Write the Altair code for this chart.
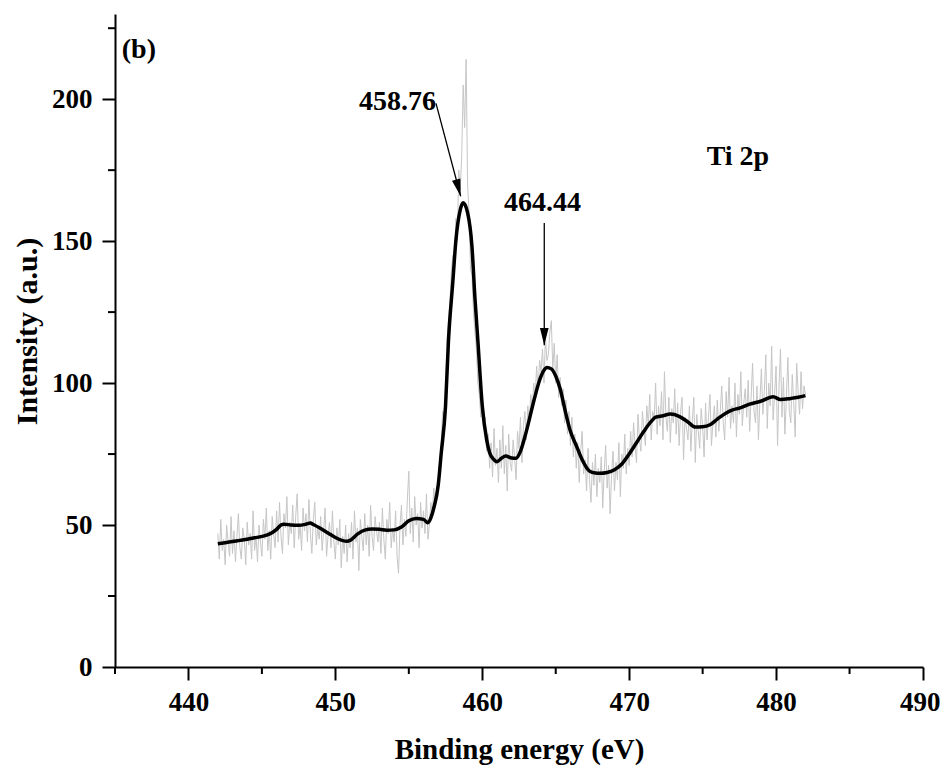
import altair as alt
import pandas as pd

# ---------------- data ----------------
# raw (noisy) spectrum, 442.0 .. 482.0 eV, step 0.1 eV
raw_start = 442.0
raw_step = 0.1
raw_intensity = [
    47, 38, 52, 41, 45, 36, 50, 44, 39, 53,
    40, 48, 37, 46, 54, 42, 38, 49, 45, 36,
    51, 43, 47, 38, 55, 41, 46, 37, 50, 44,
    39, 52, 45, 56, 41, 48, 38, 53, 47, 42,
    55, 44, 58, 46, 40, 54, 49, 60, 43, 51,
    47, 57, 42, 53, 61, 45, 50, 41, 56, 48,
    54, 44, 59, 47, 40, 52, 58, 43, 49, 45,
    53, 41, 48, 56, 39, 46, 51, 42, 55, 44,
    38, 49, 43, 52, 35, 46, 40, 50, 37, 47,
    42, 51, 38, 55, 44, 49, 34, 52, 46, 41,
    54, 43, 50, 39, 57, 46, 41, 53, 48, 44,
    51, 40, 56, 45, 38, 52, 47, 58, 42, 49,
    44, 55, 39, 33, 50, 57, 43, 52, 46, 59,
    69, 47, 56, 44, 60, 50, 54, 42, 58, 49,
    55, 47, 61, 45, 50, 58, 54, 63, 57, 62,
    66, 72, 78, 90, 88, 98, 115, 122, 128, 140,
    145, 138, 158, 150, 175, 168, 180, 205, 190, 214,
    170, 160, 140, 138, 125, 118, 112, 100, 96, 88,
    95, 84, 88, 76, 82, 70, 79, 67, 84, 71,
    77, 65, 80, 70, 85, 68, 78, 62, 82, 72,
    69, 80, 74, 66, 83, 77, 88, 72, 85, 90,
    80, 92, 86, 96, 91, 100, 95, 106, 98, 108,
    104, 112, 100, 116, 108, 110, 118, 122, 105, 114,
    100, 110, 95, 102, 92, 98, 86, 94, 82, 90,
    78, 88, 74, 82, 70, 79, 65, 76, 83, 68,
    73, 62, 77, 66, 58, 72, 64, 75, 60, 70,
    65, 74, 56, 69, 78, 63, 71, 54, 67, 76,
    62, 72, 66, 79, 60, 75, 70, 82, 68, 77,
    71, 83, 74, 86, 78, 72, 89, 80, 76, 90,
    84, 78, 92, 85, 96, 80, 90, 87, 100, 82,
    92, 85, 97, 80, 104, 88, 83, 95, 79, 91,
    86, 98, 82, 93, 78, 90, 95, 73, 88, 84,
    80, 92, 76, 87, 95, 72, 89, 83, 77, 91,
    85, 74, 93, 80, 88, 96, 78, 86, 92, 81,
    94, 83, 90, 99, 86, 80, 97, 88, 102, 84,
    92, 86, 100, 81, 96, 89, 104, 85, 93, 98,
    88, 101, 83, 95, 107, 90, 86, 99, 80, 94,
    105, 89, 97, 110, 84, 100, 92, 113, 87, 96,
    106, 78, 99, 112, 88, 102, 82, 95, 109, 90,
    86, 103, 93, 81, 107, 97, 89, 104, 91, 99,
    96,
]
raw_energy = [round(raw_start + i * raw_step, 1) for i in range(len(raw_intensity))]

# smoothed spectrum
smooth_energy = [
    442.0, 442.5, 443.0, 443.5, 444.0, 444.5, 445.0, 445.5, 446.0, 446.3,
    446.5, 447.0, 447.5, 448.0, 448.3, 448.5, 449.0, 449.5, 450.0, 450.5,
    450.8, 451.0, 451.5, 452.0, 452.5, 453.0, 453.5, 454.0, 454.5, 455.0,
    455.5, 456.0, 456.3, 456.5, 456.7, 457.0, 457.2, 457.5, 457.7, 458.0,
    458.2, 458.5, 458.7, 459.0, 459.3, 459.5, 459.7, 460.0, 460.3, 460.5,
    460.8, 461.0, 461.3, 461.6, 462.0, 462.3, 462.6, 463.0, 463.5, 463.9,
    464.2, 464.4, 464.7, 465.0, 465.3, 465.7, 466.0, 466.4, 466.8, 467.3,
    467.7, 468.0, 468.5, 469.0, 469.5, 470.0, 470.5, 471.0, 471.5, 471.8,
    472.3, 472.8, 473.4, 474.0, 474.5, 475.0, 475.5, 476.0, 476.6, 477.0,
    477.5, 478.2, 479.0, 479.8, 480.3, 481.0, 481.5, 482.0,
]
smooth_intensity = [
    43.4, 43.8, 44.2, 44.6, 45.0, 45.5, 46.0, 46.8, 48.5, 50.0,
    50.3, 50.0, 49.9, 50.3, 50.7, 50.2, 48.8, 47.2, 45.6, 44.5,
    44.3, 44.6, 46.8, 48.2, 48.6, 48.5, 48.2, 48.3, 49.3, 51.5,
    52.3, 52.0, 50.8, 52.5, 56.0, 64.0, 75.0, 92.0, 115.0, 136.0,
    150.0, 161.0, 163.5, 160.0, 148.0, 130.0, 115.0, 92.0, 80.0, 75.5,
    73.0, 72.3, 73.5, 74.3, 73.6, 73.5, 76.0, 83.0, 93.5, 101.0,
    104.5, 105.5, 105.0, 102.5, 98.0, 89.0, 83.0, 78.0, 73.0, 69.0,
    68.3, 68.2, 68.5, 69.5, 71.5, 75.0, 79.0, 83.0, 86.5, 88.0,
    88.5, 89.1, 88.3, 86.3, 84.5, 84.6, 85.3, 87.3, 89.5, 90.5,
    91.2, 92.6, 93.7, 95.2, 94.2, 94.6, 95.0, 95.6,
]

x_major = [440, 450, 460, 470, 480, 490]
x_minor = [435, 445, 455, 465, 475, 485]
y_major = [0, 50, 100, 150, 200]
y_minor = [25, 75, 125, 175, 225]

label_text = ["(b)", "458.76", "464.44", "Ti 2p"]
label_x = [435.46, 454.23, 464.10, 477.40]
label_y = [217.3, 199.0, 163.3, 179.7]
label_align = ["left", "center", "center", "center"]

arrow_x = [456.85, 464.22]
arrow_y = [198.5, 156.4]
arrow_tip_x = [458.53, 464.22]
arrow_tip_y = [165.8, 113.3]
arrow_angle = [345, 0]

# ---------------- chart ----------------
FONT = "Liberation Serif"
xs = alt.Scale(domain=[435, 490], nice=False, zero=False)
ys = alt.Scale(domain=[0, 230], nice=False, zero=True)

raw_df = pd.DataFrame({"E": raw_energy, "I": raw_intensity})
smooth_df = pd.DataFrame({"E": smooth_energy, "I": smooth_intensity})

x_axis = alt.Axis(
    values=x_major, tickSize=13, tickWidth=2, tickColor="black",
    domainColor="black", domainWidth=2, grid=False,
    labelFont=FONT, labelFontWeight="bold", labelFontSize=27, labelColor="black",
    labelBaseline="alphabetic", labelPadding=30,
    labelFlush=1, labelFlushOffset=17,
    title="Binding energy (eV)", titleFont=FONT, titleFontWeight="bold",
    titleFontSize=29, titleColor="black", titleBaseline="alphabetic",
    titleY=91, titleX=404,
)
y_axis = alt.Axis(
    values=y_major, tickSize=13, tickWidth=2, tickColor="black",
    domainColor="black", domainWidth=2, grid=False,
    labelFont=FONT, labelFontWeight="bold", labelFontSize=27, labelColor="black",
    labelPadding=10, labelFlush=False,
    title="Intensity (a.u.)", titleFont=FONT, titleFontWeight="bold",
    titleFontSize=30, titleColor="black", titleBaseline="alphabetic",
    titleAngle=270, titleX=-79, titleY=317,
)

raw_line = alt.Chart(raw_df).mark_line(color="#c6c6c6", strokeWidth=1).encode(
    x=alt.X("E:Q", scale=xs, axis=x_axis),
    y=alt.Y("I:Q", scale=ys, axis=y_axis),
    order="E:Q",
)
smooth_line = alt.Chart(smooth_df).mark_line(
    color="black", strokeWidth=3.5, interpolate="monotone"
).encode(
    x=alt.X("E:Q", scale=xs),
    y=alt.Y("I:Q", scale=ys),
    order="E:Q",
)

xminor_df = pd.DataFrame({"v": x_minor})
yminor_df = pd.DataFrame({"v": y_minor})
x_minor_ticks = alt.Chart(xminor_df).mark_rule(color="black", strokeWidth=2).encode(
    x=alt.X("v:Q", scale=xs), y=alt.value(653), y2=alt.value(660)
)
y_minor_ticks = alt.Chart(yminor_df).mark_rule(color="black", strokeWidth=2).encode(
    y=alt.Y("v:Q", scale=ys), x=alt.value(0), x2=alt.value(-7)
)

lab_df = pd.DataFrame({"t": label_text, "x": label_x, "y": label_y, "a": label_align})
left_labels = alt.Chart(lab_df[lab_df.a == "left"]).mark_text(
    font=FONT, fontWeight="bold", fontSize=28, align="left", baseline="middle", color="black"
).encode(x=alt.X("x:Q", scale=xs), y=alt.Y("y:Q", scale=ys), text="t:N")
center_labels = alt.Chart(lab_df[lab_df.a == "center"]).mark_text(
    font=FONT, fontWeight="bold", fontSize=28, align="center", baseline="middle", color="black"
).encode(x=alt.X("x:Q", scale=xs), y=alt.Y("y:Q", scale=ys), text="t:N")

arr_df = pd.DataFrame({"x": arrow_x, "y": arrow_y, "x2": arrow_tip_x, "y2": arrow_tip_y,
                       "ang": arrow_angle})
arrow_lines = alt.Chart(arr_df).mark_rule(color="black", strokeWidth=1.3).encode(
    x=alt.X("x:Q", scale=xs), y=alt.Y("y:Q", scale=ys), x2="x2:Q", y2="y2:Q"
)
arrow_heads = alt.Chart(arr_df).mark_point(
    shape="M0,0L-0.5,-2L0.5,-2Z", filled=True, color="black", size=300, opacity=1
).encode(
    x=alt.X("x2:Q", scale=xs), y=alt.Y("y2:Q", scale=ys),
    angle=alt.Angle("ang:Q", scale=None),
)

chart = alt.layer(
    raw_line, smooth_line, x_minor_ticks, y_minor_ticks,
    arrow_lines, arrow_heads, left_labels, center_labels,
).properties(
    width=808, height=653,
    autosize=alt.AutoSizeParams(type="none"),
    padding={"left": 107, "top": 6, "right": 19, "bottom": 99},
    background="white",
).configure_view(stroke=None)

chart.save("out.html", embed_options={"renderer": "svg", "actions": False})
